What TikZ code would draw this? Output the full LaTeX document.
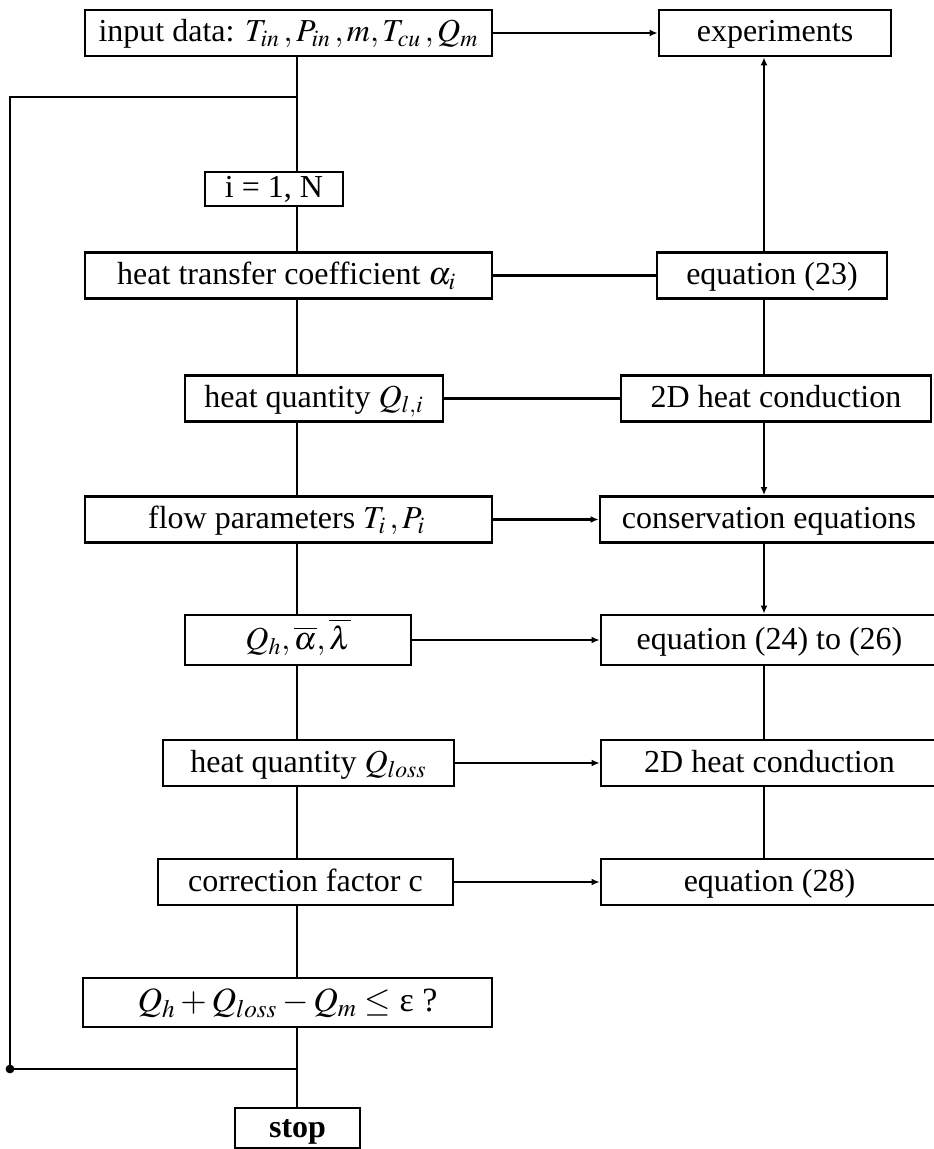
\documentclass[tikz,border=0pt]{standalone}
\usepackage{mathptmx}
\usepackage{fontspec}
\setmainfont{Liberation Serif}
\usetikzlibrary{arrows.meta}

\begin{document}
\begin{tikzpicture}[x=0.5pt,y=-0.5pt,>=Latex,
  box/.style={draw, line width=1.4pt, minimum height=23pt, inner sep=2pt,
    text height=11pt, text depth=2pt, font=\fontsize{16}{19}\selectfont},
  link/.style={line width=1.4pt},
  tip/.style={link, -{Latex[length=4pt,width=3.5pt]}}]
  \useasboundingbox (0,0) rectangle (933,1149);

  % Column lines
  \def\lx{297}
  \def\rx{764}

  % Left column
  \node[box, minimum width=203.5pt] (input) at (288.5,33)
    {input data: $T_{in}\,, P_{in}\,, m, T_{cu}\,, Q_m$};
  \node[box, minimum width=69pt, minimum height=17pt] (loop) at (274,189) {i = 1, N};
  \node[box, minimum width=203.5pt] (alpha) at (288.5,275.5)
    {heat transfer coefficient $\alpha_i\,$};
  \node[box, minimum width=129pt] (qli) at (314,398.5) {heat quantity $Q_{l,i}$};
  \node[box, minimum width=203.5pt] (flow) at (288.5,519.5)
    {flow parameters $T_i\,, P_i\,$};
  \node[box, minimum width=113pt, minimum height=25pt] (qh) at (298,640)
    {$Q_h, \overline{\alpha}, \overline{\lambda}$};
  \node[box, minimum width=145.5pt] (qloss) at (308.5,763) {heat quantity $Q_{loss}$};
  \node[box, minimum width=147.5pt] (corr) at (305.5,882) {correction factor c};
  \node[box, minimum width=204.5pt, minimum height=24.5pt,
    font=\fontsize{17}{20}\selectfont] (check) at (287.5,1002.5)
    {$Q_h + Q_{loss} - Q_m \leq$ ε ?};
  \node[box, minimum width=62.5pt, minimum height=20pt] (stop) at (297.5,1128)
    {\textbf{stop}};

  % Right column
  \node[box, minimum width=116pt] (exper) at (775,33) {experiments};
  \node[box, minimum width=115pt] (eqa) at (772,275.5) {equation (23)};
  \node[box, minimum width=155pt] (conda) at (776,398.5) {2D heat conduction};
  \node[box, minimum width=169pt] (cons) at (769,519.5) {conservation equations};
  \node[box, minimum width=168.5pt, minimum height=25pt] (eqb) at (769.5,640)
    {equation (24) to (26)};
  \node[box, minimum width=168.5pt] (condb) at (769.5,763) {2D heat conduction};
  \node[box, minimum width=168.5pt] (eqc) at (769.5,882) {equation (28)};

  % Loop corners
  \coordinate (jt) at (\lx,97);
  \coordinate (jb) at (\lx,1069);
  \coordinate (ct) at (10,97);
  \coordinate (cb) at (10,1069);

  % Left chain
  \draw[link] (input.south -| jt) -- (jt) -- (loop.north -| jt);
  \draw[link] (loop.south -| jt) -- (alpha.north -| jt);
  \draw[link] (alpha.south -| jt) -- (qli.north -| jt);
  \draw[link] (qli.south -| jt) -- (flow.north -| jt);
  \draw[link] (flow.south -| jt) -- (qh.north -| jt);
  \draw[link] (qh.south -| jt) -- (qloss.north -| jt);
  \draw[link] (qloss.south -| jt) -- (corr.north -| jt);
  \draw[link] (corr.south -| jt) -- (check.north -| jt);
  \draw[link] (check.south -| jt) -- (jb) -- (stop.north -| jt);
  \draw[link] (jb) -- (cb) -- (ct) -- (jt);
  \fill (cb) circle (2.2pt);

  % Right chain
  \draw[tip] (eqa.north -| \rx,0) -- (exper.south -| \rx,0);
  \draw[link] (eqa.south -| \rx,0) -- (conda.north -| \rx,0);
  \draw[tip] (conda.south -| \rx,0) -- (cons.north -| \rx,0);
  \draw[tip] (cons.south -| \rx,0) -- (eqb.north -| \rx,0);
  \draw[link] (eqb.south -| \rx,0) -- (condb.north -| \rx,0);
  \draw[link] (condb.south -| \rx,0) -- (eqc.north -| \rx,0);

  % Cross links
  \draw[tip] (input.east) -- (exper.west |- input.east);
  \draw[link] (alpha.east) -- (eqa.west |- alpha.east);
  \draw[link] (qli.east) -- (conda.west |- qli.east);
  \draw[tip] (flow.east) -- (cons.west |- flow.east);
  \draw[tip] (qh.east) -- (eqb.west |- qh.east);
  \draw[tip] (qloss.east) -- (condb.west |- qloss.east);
  \draw[tip] (corr.east) -- (eqc.west |- corr.east);
\end{tikzpicture}
\end{document}
